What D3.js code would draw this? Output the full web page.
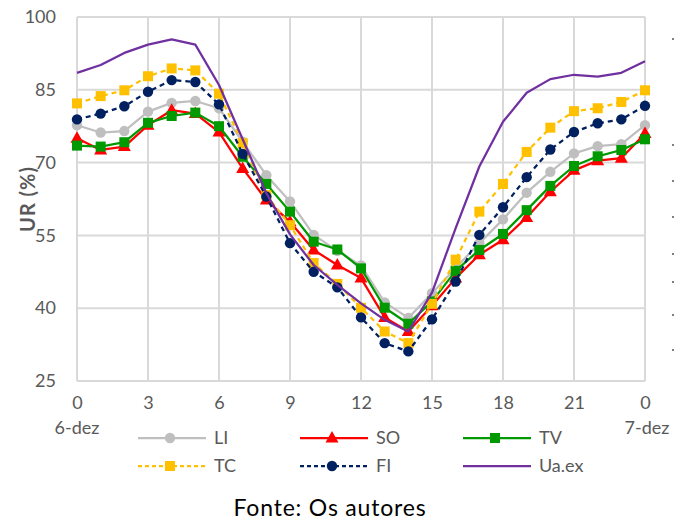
<!DOCTYPE html>
<html>
<head>
<meta charset="utf-8">
<script src="https://cdn.jsdelivr.net/npm/d3@7"></script>
<style>
html,body{margin:0;padding:0;background:#fff;}
svg{display:block;}
text{font-family:"Lato","Open Sans",sans-serif;}
</style>
</head>
<body>
<svg id="chart" width="674" height="521"></svg>
<script>
// ---- data ----
const hours = d3.range(0, 25);
const xTickValues = [0, 3, 6, 9, 12, 15, 18, 21, 24];
const xTickLabels = ["0", "3", "6", "9", "12", "15", "18", "21", "0"];
const yTickValues = [25, 40, 55, 70, 85, 100];
const dayLabels = ["6-dez", "7-dez"];
const seriesNames = ["LI", "SO", "TV", "TC", "FI", "Ua.ex"];

const LI = [77.7,76.2,76.5,80.5,82.3,82.7,81.2,74.3,67.4,62.0,55.1,51.8,48.8,41.2,38.0,43.1,48.3,53.4,58.3,63.8,68.1,71.9,73.4,73.8,77.7];
const SO = [75.0,72.6,73.3,77.7,80.8,80.1,76.3,68.8,62.3,57.8,52.0,48.9,46.2,38.1,35.2,40.5,46.2,51.0,54.1,58.7,64.0,68.4,70.4,70.9,76.0];
const TV = [73.5,73.3,74.2,78.2,79.6,80.3,77.5,71.2,65.6,59.9,53.7,52.1,48.2,40.1,36.8,41.4,47.7,52.0,55.3,60.2,65.2,69.3,71.3,72.6,74.8];
const TC = [82.2,83.7,84.9,87.8,89.4,89.0,84.2,74.0,63.3,57.1,49.3,45.0,40.1,35.2,32.8,40.9,50.0,59.9,65.6,72.2,77.2,80.6,81.2,82.5,84.9];
const FI = [78.9,80.1,81.6,84.6,87.0,86.6,82.0,71.8,63.0,53.4,47.5,44.3,38.1,32.8,31.1,37.7,45.5,55.1,60.8,67.0,72.7,76.3,78.1,78.9,81.7];
const UaEx = [88.5,90.1,92.6,94.3,95.4,94.3,86.0,74.8,63.7,55.2,48.9,44.8,41.0,37.6,35.2,43.2,56.5,69.2,78.4,84.4,87.2,88.1,87.7,88.5,90.9];

// ---- styles ----
const styles = {
  "LI":    {color:"#BFBFBF", dash:null,  marker:"circle"},
  "SO":    {color:"#FF0000", dash:null,  marker:"triangle"},
  "TV":    {color:"#009900", dash:null,  marker:"square"},
  "TC":    {color:"#FFC000", dash:"5,4", marker:"square"},
  "FI":    {color:"#002060", dash:"5,4", marker:"circle"},
  "Ua.ex": {color:"#7030A0", dash:null,  marker:null}
};
const values = {"LI":LI, "SO":SO, "TV":TV, "TC":TC, "FI":FI, "Ua.ex":UaEx};

const svg = d3.select("#chart");
const L = 77, R = 645, T = 17, B = 381;
const x = d3.scaleLinear().domain([0, 24]).range([L, R]);
const y = d3.scaleLinear().domain([25, 100]).range([B, T]);
const grid = "#D9D9D9", txt = "#595959";

// gridlines
svg.append("g").selectAll("line").data(yTickValues).join("line")
  .attr("x1", L).attr("x2", R).attr("y1", d => y(d)).attr("y2", d => y(d))
  .attr("stroke", grid).attr("stroke-width", 2);
svg.append("g").selectAll("line").data(xTickValues).join("line")
  .attr("x1", d => x(d)).attr("x2", d => x(d)).attr("y1", T).attr("y2", B)
  .attr("stroke", grid).attr("stroke-width", 2);

// axes (labels only)
const yAxis = d3.axisLeft(y).tickValues(yTickValues).tickSize(0).tickPadding(21);
const gy = svg.append("g").attr("transform", `translate(${L},0)`).call(yAxis);
gy.select(".domain").remove();
gy.selectAll("text").attr("fill", txt).style("font-size", "18px").style("font-family", "Lato, sans-serif");

const xAxis = d3.axisBottom(x).tickValues(xTickValues).tickSize(0).tickPadding(15)
  .tickFormat((d, i) => xTickLabels[i]);
const gx = svg.append("g").attr("transform", `translate(0,${B})`).call(xAxis);
gx.select(".domain").remove();
gx.selectAll("text").attr("fill", txt).style("font-size", "18px").style("font-family", "Lato, sans-serif");

// day labels
svg.append("text").attr("x", x(0)).attr("y", 434).attr("text-anchor", "middle")
  .attr("fill", txt).style("font-size", "18px").text(dayLabels[0]);
svg.append("text").attr("x", x(24) + 2).attr("y", 434).attr("text-anchor", "middle")
  .attr("fill", txt).style("font-size", "18px").text(dayLabels[1]);

// y title
svg.append("text").attr("transform", `translate(35,${(T + B) / 2}) rotate(-90)`)
  .attr("text-anchor", "middle").attr("fill", txt)
  .style("font-size", "20px").style("font-weight", "bold").style("letter-spacing", "1px").text("UR (%)");

// markers
function drawMarker(g, type, cx, cy, color) {
  if (type === "circle") {
    g.append("circle").attr("cx", cx).attr("cy", cy).attr("r", 5.2).attr("fill", color);
  } else if (type === "square") {
    g.append("rect").attr("x", cx - 5).attr("y", cy - 5).attr("width", 10).attr("height", 10).attr("fill", color);
  } else if (type === "triangle") {
    g.append("path").attr("d", `M${cx},${cy - 7} L${cx + 6.5},${cy + 4.5} L${cx - 6.5},${cy + 4.5} Z`).attr("fill", color);
  }
}

const line = d3.line().x((d, i) => x(hours[i])).y(d => y(d));
seriesNames.forEach(name => {
  const st = styles[name];
  const g = svg.append("g");
  g.append("path").datum(values[name]).attr("d", line)
    .attr("fill", "none").attr("stroke", st.color).attr("stroke-width", 2.25)
    .attr("stroke-dasharray", st.dash).attr("stroke-linejoin", "round");
  if (st.marker) values[name].forEach((v, i) => drawMarker(g, st.marker, x(hours[i]), y(v), st.color));
});

// legend
const legCols = [138, 300, 463];
const legRows = [438, 466];
seriesNames.forEach((name, i) => {
  const st = styles[name];
  const lx = legCols[i % 3], ly = legRows[Math.floor(i / 3)];
  const g = svg.append("g");
  g.append("line").attr("x1", lx).attr("x2", lx + 68).attr("y1", ly).attr("y2", ly)
    .attr("stroke", st.color).attr("stroke-width", 2.25).attr("stroke-dasharray", st.dash ? "4,3" : null);
  if (st.marker) drawMarker(g, st.marker, lx + 32, ly, st.color);
  g.append("text").attr("x", lx + 76).attr("y", ly).attr("dy", "0.36em")
    .attr("fill", txt).style("font-size", "18px").text(name);
});

// source
svg.append("text").attr("x", 330).attr("y", 516).attr("text-anchor", "middle")
  .attr("fill", "#000").style("font-size", "23px").style("letter-spacing", "0.8px").text("Fonte: Os autores");

// stray edge ticks seen at the right border of the reference
const edgeMarks = [39, 145, 181, 217, 254, 282, 315, 350];
svg.append("g").selectAll("line").data(edgeMarks).join("line")
  .attr("x1", 672).attr("x2", 674).attr("y1", d => d).attr("y2", d => d)
  .attr("stroke", "#000").attr("stroke-width", 1);
</script>
</body>
</html>
